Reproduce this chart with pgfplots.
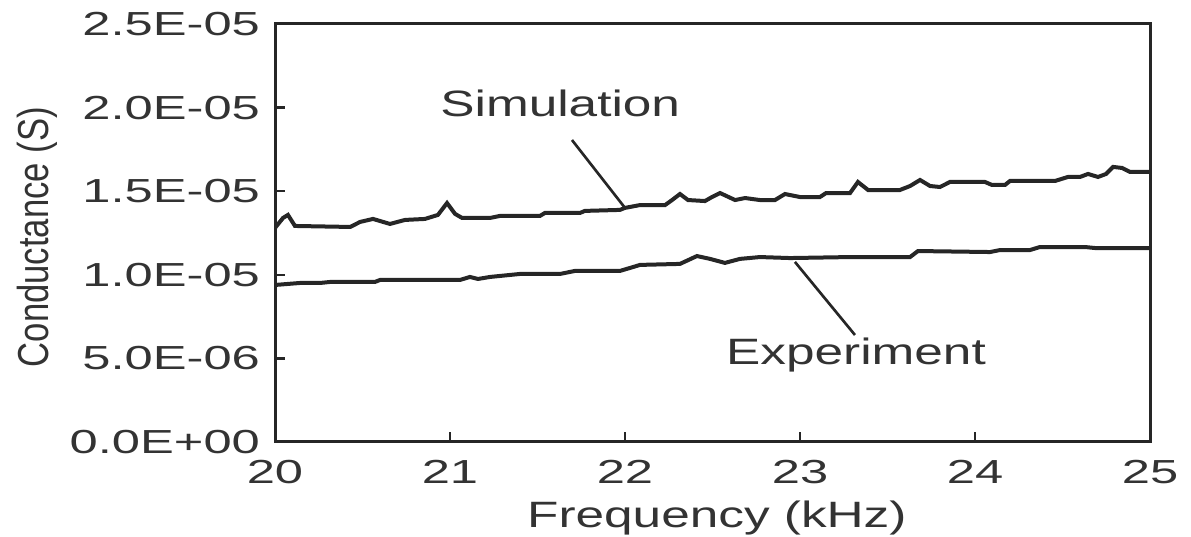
\documentclass[border=0pt]{standalone}
\usepackage{fontspec}
\usepackage{pgfplots}
\pgfplotsset{compat=1.18}
\setmainfont{Liberation Sans}
\newfontfamily\widefont[FakeStretch=1.4]{Liberation Sans}
\newfontfamily\tickfont[FakeStretch=1.52]{Liberation Sans}
\newfontfamily\narrowfont[FakeStretch=0.8]{Liberation Sans}

\begin{document}
\begin{tikzpicture}
\begin{axis}[
    name=ax,
    scale only axis,
    width=262.5pt, height=125.4pt,
    xmin=20, xmax=25,
    ymin=0, ymax=2.5e-5,
    xtick={20,21,22,23,24,25},
    xticklabels={20,21,22,23,24,25},
    ytick={0,5e-6,1e-5,1.5e-5,2e-5,2.5e-5},
    yticklabels={0.0E+00,5.0E-06,1.0E-05,1.5E-05,2.0E-05,2.5E-05},
    xtick pos=bottom, ytick pos=left,
    tick align=inside,
    major tick length=3pt,
    axis line style={line width=0.9pt, black!85},
    tick style={line width=0.7pt, black!85},
    ticklabel style={font=\tickfont\fontsize{10}{12}\selectfont, text=black!80},
    yticklabel style={xshift=-1pt},
    xticklabel style={yshift=-2pt},
    xlabel={Frequency (kHz)},
    xlabel style={font=\widefont\fontsize{11}{13}\selectfont, text=black!80,
        at={(axis description cs:0.505,-0.182)}, anchor=center},
    ylabel={Conductance (S)},
    ylabel style={font=\narrowfont\fontsize{13}{15}\selectfont, text=black!80,
        at={(axis description cs:-0.272,0.49)}, anchor=center},
    scaled y ticks=false,
]
% Simulation
\addplot[black!85, line width=1.2pt] coordinates {
(20.000,12.80e-6)(20.046,13.40e-6)(20.074,13.58e-6)(20.114,12.92e-6)
(20.430,12.86e-6)(20.486,13.16e-6)(20.560,13.34e-6)(20.657,13.04e-6)
(20.743,13.28e-6)(20.857,13.34e-6)(20.931,13.58e-6)(20.983,14.29e-6)
(21.029,13.64e-6)(21.069,13.40e-6)(21.229,13.40e-6)(21.286,13.52e-6)
(21.514,13.52e-6)(21.543,13.70e-6)(21.743,13.70e-6)(21.771,13.82e-6)
(21.971,13.88e-6)(22.000,14.00e-6)(22.086,14.17e-6)(22.229,14.17e-6)
(22.269,14.47e-6)(22.314,14.83e-6)(22.360,14.47e-6)(22.457,14.41e-6)
(22.497,14.65e-6)(22.543,14.89e-6)(22.629,14.47e-6)(22.686,14.59e-6)
(22.771,14.47e-6)(22.857,14.47e-6)(22.914,14.83e-6)(23.000,14.65e-6)
(23.114,14.65e-6)(23.149,14.89e-6)(23.286,14.89e-6)(23.331,15.55e-6)
(23.389,15.07e-6)(23.571,15.07e-6)(23.629,15.31e-6)(23.686,15.67e-6)
(23.743,15.31e-6)(23.800,15.25e-6)(23.857,15.55e-6)(24.057,15.55e-6)
(24.097,15.37e-6)(24.171,15.37e-6)(24.200,15.61e-6)(24.457,15.61e-6)
(24.531,15.85e-6)(24.600,15.85e-6)(24.646,16.03e-6)(24.703,15.85e-6)
(24.749,16.03e-6)(24.789,16.45e-6)(24.840,16.39e-6)(24.886,16.15e-6)
(25.000,16.15e-6)
};
% Experiment
\addplot[black!85, line width=1.2pt] coordinates {
(20.000,9.39e-6)(20.143,9.51e-6)(20.257,9.51e-6)(20.314,9.57e-6)
(20.571,9.57e-6)(20.600,9.69e-6)(21.057,9.69e-6)(21.114,9.87e-6)
(21.160,9.75e-6)(21.229,9.87e-6)(21.286,9.93e-6)(21.400,10.05e-6)
(21.629,10.05e-6)(21.714,10.23e-6)(21.971,10.23e-6)(22.029,10.41e-6)
(22.086,10.59e-6)(22.314,10.65e-6)(22.411,11.12e-6)(22.486,10.95e-6)
(22.571,10.71e-6)(22.657,10.95e-6)(22.771,11.06e-6)(22.943,11.00e-6)
(23.286,11.06e-6)(23.629,11.06e-6)(23.674,11.42e-6)(24.086,11.36e-6)
(24.143,11.48e-6)(24.314,11.48e-6)(24.371,11.66e-6)(24.629,11.66e-6)
(24.686,11.60e-6)(25.000,11.60e-6)
};
% annotations
\draw[black!85, line width=0.8pt] (axis cs:21.697,18.06e-6) -- (axis cs:22.0,14.0e-6);
\draw[black!85, line width=0.8pt] (axis cs:22.971,10.77e-6) -- (axis cs:23.314,6.40e-6);
\node[font=\widefont\fontsize{11}{13}\selectfont, text=black!80] at (axis cs:21.63,20.28e-6) {Simulation};
\node[font=\widefont\fontsize{11}{13}\selectfont, text=black!80] at (axis cs:23.32,5.20e-6) {Experiment};
\end{axis}
\pgfresetboundingbox
\path (ax.south west) ++(-82.5pt,-28.5pt) rectangle ([shift={(12.3pt,7.2pt)}]ax.north east);
\end{tikzpicture}
\end{document}
